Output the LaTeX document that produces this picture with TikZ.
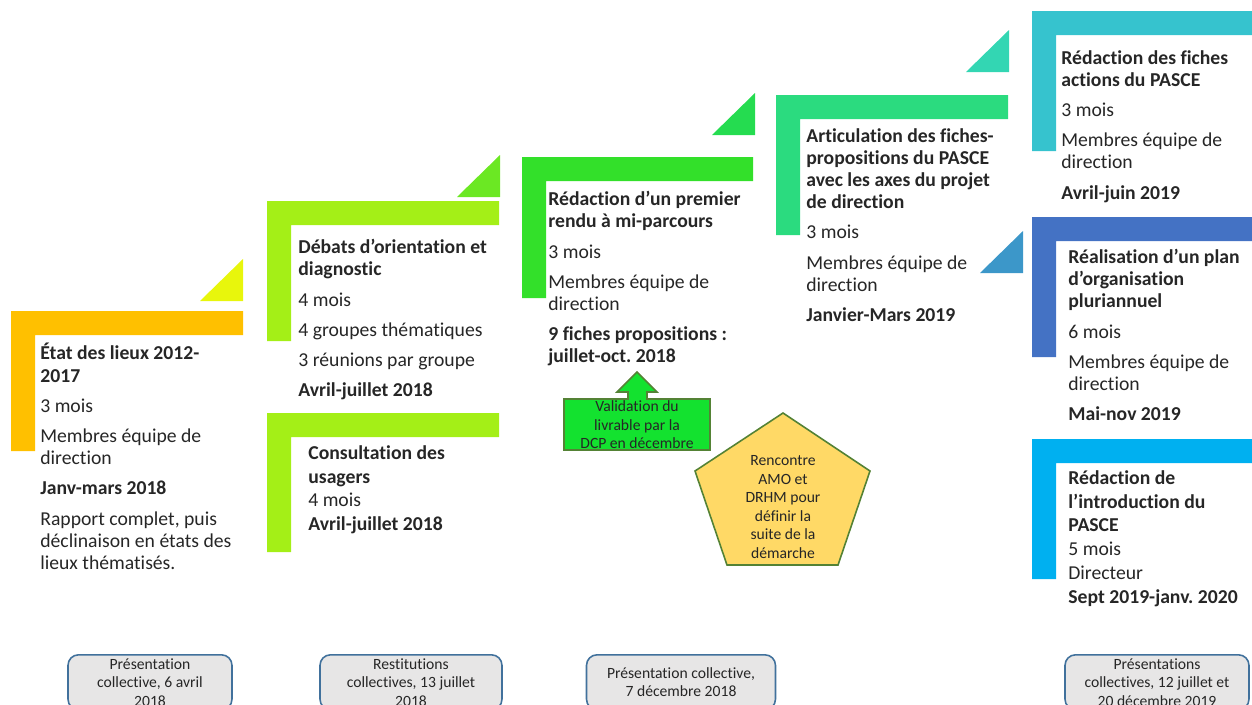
\documentclass[tikz,border=0pt]{standalone}
\usepackage{fontspec}
\setmainfont{Carlito}[Ligatures=NoCommon]
\frenchspacing
\usetikzlibrary{positioning}
\definecolor{orangeA}{HTML}{FFC000}
\definecolor{jauneT}{HTML}{E8F60C}
\definecolor{limeA}{HTML}{A4EF17}
\definecolor{limeT}{HTML}{6BE823}
\definecolor{vertA}{HTML}{33E02A}
\definecolor{vertT}{HTML}{25DC50}
\definecolor{menthe}{HTML}{2BDB7F}
\definecolor{tealT}{HTML}{33D6B3}
\definecolor{bleuT}{HTML}{3C97C9}
\definecolor{cyanA}{HTML}{36C3CE}
\definecolor{bleuA}{HTML}{4472C4}
\definecolor{ciel}{HTML}{00B0F0}
\definecolor{vif}{HTML}{13E22F}
\definecolor{olive}{HTML}{548235}
\definecolor{sable}{HTML}{FFD966}
\definecolor{grisB}{HTML}{E7E6E6}
\definecolor{bordB}{HTML}{41719C}

\begin{document}
\begin{tikzpicture}[x=0.02cm, y=-0.02cm,
    etape/.style = {anchor=north west, align=left, inner sep=0pt,
      text=black!85, font=\fontsize{11.2}{12.6}\selectfont},
    petit/.style = {align=center, inner sep=0pt, text=black!85,
      font=\fontsize{8.9}{10.5}\selectfont},
    bilan/.style = {petit, draw=bordB, fill=grisB, rounded corners=6pt,
      line width=0.9pt, anchor=north, minimum height=1.1cm},
  ]
\useasboundingbox (0,0) rectangle (1252,704);
\clip (0,0) rectangle (1252,704);

% equerres : x gauche, y haut, x droite, y bas, couleur
\foreach \xa/\ya/\xb/\yb/\c in {11/311/243/451/orangeA, 267/201/499/341/limeA,
    267/413/499/552/limeA, 522/157/753/298/vertA, 776/95/1008/235/menthe,
    1032/11/1252/151/cyanA, 1032/217/1252/357/bleuA, 1032/439/1252/579/ciel}
  \fill[\c] (\xa,\ya) -- (\xb,\ya) -- (\xb,\ya+24) -- (\xa+24,\ya+24)
    -- (\xa+24,\yb) -- (\xa,\yb) -- cycle;

% triangles : x droite, y bas, couleur
\foreach \xb/\yb/\c in {243/301/jauneT, 500/197/limeT, 755/135/vertT,
    1009/72/tealT, 1023/273/bleuT}
  \fill[\c] (\xb-43,\yb) -- (\xb,\yb) -- (\xb,\yb-42) -- cycle;

\node[etape] (etat) at (40,343)
    {\textbf{État des lieux 2012-}\\\textbf{2017}\\[4.6pt]
     3 mois\\[4.6pt]
     Membres équipe de\\direction\\[4.6pt]
     \textbf{Janv-mars 2018}\\[4.6pt]
     Rapport complet, puis\\déclinaison en états des\\lieux thématisés.};
\node[etape] (debats) at (298,239)
    {\textbf{Débats d’orientation et}\\\textbf{diagnostic}\\[4.6pt]
     4 mois\\[4.6pt]
     4 groupes thématiques\\[4.6pt]
     3 réunions par groupe\\[4.6pt]
     \textbf{Avril-juillet 2018}};
\node[etape] (consult) at (308,445)
    {\textbf{Consultation des}\\[1pt]\textbf{usagers}\\[1pt]
     4 mois\\[1pt]
     \textbf{Avril-juillet 2018}};
\node[etape] (rendu) at (548,191)
    {\textbf{Rédaction d’un premier}\\\textbf{rendu à mi-parcours}\\[4.6pt]
     3 mois\\[4.6pt]
     Membres équipe de\\direction\\[4.6pt]
     \textbf{9 fiches propositions :}\\\textbf{juillet-oct. 2018}};
\node[etape] (articul) at (806,128)
    {\textbf{Articulation des fiches-}\\\textbf{propositions du PASCE}\\
     \textbf{avec les axes du projet}\\\textbf{de direction}\\[4.6pt]
     3 mois\\[4.6pt]
     Membres équipe de\\direction\\[4.6pt]
     \textbf{Janvier-Mars 2019}};
\node[etape] (actions) at (1061,50)
    {\textbf{Rédaction des fiches}\\\textbf{actions du PASCE}\\[4.6pt]
     3 mois\\[4.6pt]
     Membres équipe de\\direction\\[4.6pt]
     \textbf{Avril-juin 2019}};
\node[etape] (plan) at (1068,249)
    {\textbf{Réalisation d’un plan}\\\textbf{d’organisation}\\\textbf{pluriannuel}\\[4.6pt]
     6 mois\\[4.6pt]
     Membres équipe de\\direction\\[4.6pt]
     \textbf{Mai-nov 2019}};
\node[etape] (intro) at (1068,470)
    {\textbf{Rédaction de}\\[1pt]\textbf{l’introduction du}\\[1pt]\textbf{PASCE}\\[1pt]
     5 mois\\[1pt]
     Directeur\\[1pt]
     \textbf{Sept 2019-janv. 2020}};

% fleche de validation
\filldraw[fill=vif, draw=olive, line width=0.9pt]
  (564,399) -- (628,399) -- (628,392) -- (617,392) -- (637,372) -- (657,392)
  -- (647,392) -- (647,399) -- (710,399) -- (710,450) -- (564,450) -- cycle;
\node[petit] (valid) at (637,425) {Validation du\\livrable par la\\DCP en décembre};

% pentagone
\filldraw[fill=sable, draw=olive, line width=0.9pt]
  (783,413) -- (870,471) -- (838,565) -- (727,565) -- (695,471) -- cycle;
\node[petit] (amo) at (783,507)
    {Rencontre\\AMO et\\DRHM pour\\définir la\\suite de la\\démarche};

% presentations collectives
\node[bilan, minimum width=3.28cm] (pres1) at (150,654)
    {Présentation\\collective, 6 avril\\2018};
\node[bilan, minimum width=3.64cm] (pres2) at (411,654)
    {Restitutions\\collectives, 13 juillet\\2018};
\node[bilan, minimum width=3.78cm] (pres3) at (681,654)
    {Présentation collective,\\7 décembre 2018};
\node[bilan, minimum width=3.68cm] (pres4) at (1157,654)
    {Présentations\\collectives, 12 juillet et\\20 décembre 2019};
\end{tikzpicture}
\end{document}
